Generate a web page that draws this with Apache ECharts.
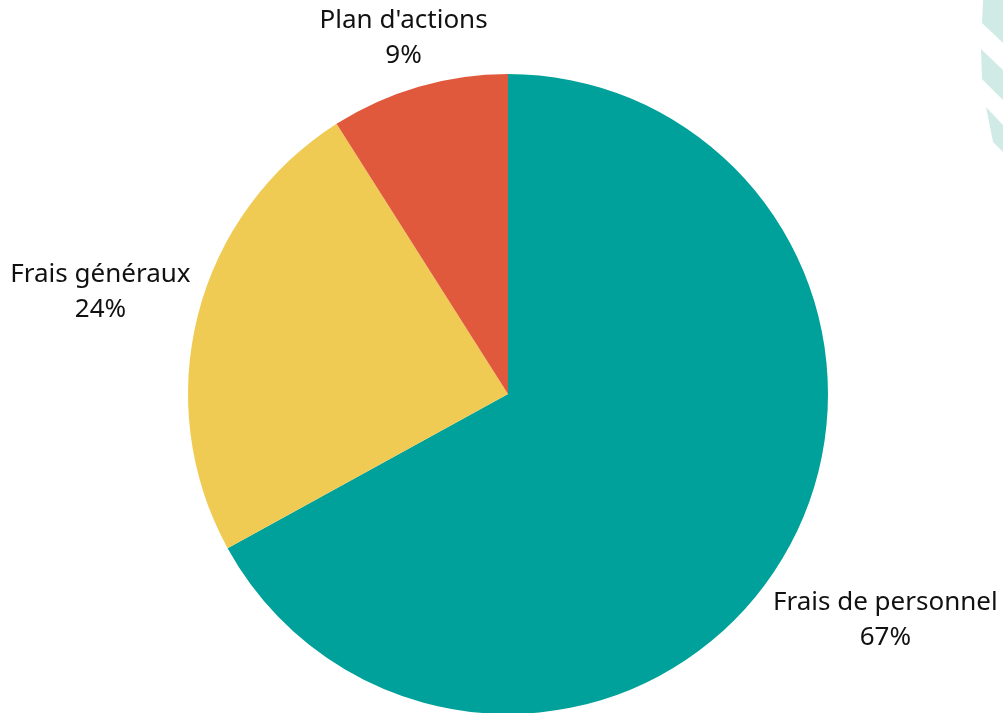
<!DOCTYPE html>
<html><head><meta charset="utf-8">
<script src="https://cdn.jsdelivr.net/npm/echarts@6/dist/echarts.min.js"></script>
<style>html,body{margin:0;padding:0;background:#fff}#c{width:1003px;height:713px}</style>
</head><body><div id="c"></div>
<script>
const categories = ["Frais de personnel", "Frais généraux", "Plan d'actions"];
const values = [67, 24, 9];
const colors = ['#00A19A', '#F0CB54', '#E0593C'];

const CX = 508, CY = 394, R = 320, GAP = 5, TEXT_SHIFT = 3;
const total = values.reduce((a, b) => a + b, 0);
const midAngles = [];
let acc = 0;
values.forEach(v => { midAngles.push((acc + v / 2) / total * 2 * Math.PI); acc += v; });

const chart = echarts.init(document.getElementById('c'));
chart.setOption({
  animation: false,
  graphic: [
    { type: 'polygon', shape: { points: [[983,0],[1003,0],[1003,43],[982,23]] }, style: { fill: '#D0EBE6' } },
    { type: 'polygon', shape: { points: [[981,49],[1003,70],[1003,100],[982,79]] }, style: { fill: '#D0EBE6' } },
    { type: 'polygon', shape: { points: [[986,107],[1003,125],[1003,152],[993,142]] }, style: { fill: '#D0EBE6' } }
  ],
  series: [{
    type: 'pie',
    center: [CX, CY],
    radius: R,
    startAngle: 90,
    clockwise: true,
    color: colors,
    data: categories.map((n, i) => ({ name: n, value: values[i] })),
    label: {
      show: true,
      position: 'outside',
      formatter: p => p.name + '\n' + Math.round(p.percent) + '%',
      fontFamily: 'Noto Sans',
      fontSize: 26,
      lineHeight: 35,
      color: '#111',
      align: 'center',
      overflow: 'none'
    },
    labelLine: { show: false },
    labelLayout: function (p) {
      const a = midAngles[p.dataIndex];
      const ux = Math.sin(a), uy = -Math.cos(a);
      const hw = p.labelRect.width / 2, hh = p.labelRect.height / 2;
      const RR = R + GAP;
      const b = Math.abs(ux) * hw + Math.abs(uy) * hh;
      const c = hw * hw + hh * hh - RR * RR;
      const d = b + Math.sqrt(b * b - c);
      return { x: CX + d * ux, y: CY + d * uy + TEXT_SHIFT, align: 'center', verticalAlign: 'middle' };
    }
  }]
});
</script></body></html>
